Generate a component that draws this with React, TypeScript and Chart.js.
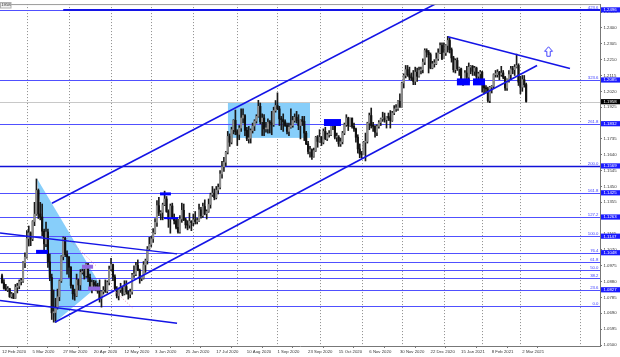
import React, { useEffect, useRef } from 'react';
import { Chart, registerables } from 'chart.js';
Chart.register(...registerables);

// Daily EUR/USD candles, 12 Feb 2020 .. 4 Mar 2021, prices in 1/10000 (pips)
const openPips = [
  10915,10873,10840,10830,10837,10790,10806,10780,10846,10853,10880,10882,10993,
  11026,11138,11172,11136,11240,11284,11426,11285,11267,11182,11106,11177,10998,10905,10693,10695,10724,10789,10884,11030,11140,11042,
  11028,10966,10857,10807,10794,10890,10860,10935,10940,10915,10986,10905,10845,10875,10860,10855,10823,10780,10820,10828,10822,10875,
  10955,10982,10908,10839,10795,10832,10840,10806,10850,10818,10804,10818,10920,10924,10977,10948,10900,10900,10980,11005,11075,
  11103,11136,11172,11235,11335,11290,11295,11340,11375,11300,11255,11333,11262,11245,11205,11177,11255,11307,11250,11220,11218,11242,
  11233,11250,11240,11245,11310,11275,11330,11287,11300,11342,11400,11410,11383,11428,11445,11525,11568,11595,11655,11750,11715,11790,11846,
  11778,11762,11800,11860,11875,11786,11735,11739,11785,11812,11842,11870,11930,11838,11860,11795,11795,11835,11830,11820,11905,
  11935,11915,11855,11850,11838,11815,11780,11805,11815,11845,11865,11845,11815,11850,11840,11770,11705,11660,11670,11630,11665,11745,
  11720,11745,11715,11780,11735,11760,11760,11825,11815,11745,11745,11705,11718,11770,11820,11860,11815,11860,11810,11795,11745,11675,
  11645,11640,11715,11720,11830,11875,11815,11810,11775,11810,11833,11855,11860,11850,11870,11860,11845,11890,11915,11915,11960,
  11925,12070,12115,12150,12120,12105,12100,12080,12135,12110,12145,12150,12195,12265,12255,12240,12160,12185,12185,12215,12250,12295,
  12215,12250,12295,12325,12270,12220,12150,12205,12155,12155,12080,12075,12130,12105,12165,12170,12140,12160,12110,12125,
  12135,12060,12040,12035,11965,12045,12050,12120,12120,12135,12120,12130,12105,12040,12090,12120,12155,12150,12165,12175,
  12075,12045,12090,12060,
];
const highPips = [
  10925,10892,10863,10850,10840,10815,10810,10863,10870,10890,10900,11000,11053,
  11185,11213,11178,11245,11355,11495,11435,11355,11345,11195,11237,11195,11045,10925,10830,10780,10835,10890,11035,11147,11145,11065,
  11030,10970,10860,10835,10925,10895,10952,10955,10955,10990,10990,10925,10890,10888,10885,10870,10890,10825,10850,10890,10885,10973,
  11019,10985,10920,10850,10840,10870,10850,10885,10885,10825,10835,10930,10975,10995,11010,10955,10910,11000,11015,11090,11145,
  11150,11197,11257,11365,11385,11305,11350,11422,11390,11310,11345,11350,11285,11255,11255,11275,11350,11345,11260,11245,11290,11245,
  11285,11300,11260,11345,11325,11350,11370,11310,11375,11410,11450,11435,11450,11465,11545,11600,11625,11660,11780,11765,11805,11850,11908,
  11790,11815,11915,11915,11880,11805,11810,11795,11830,11850,11880,11966,11950,11885,11880,11835,11855,11845,11900,11925,11965,
  12011,11930,11870,11885,11850,11830,11830,11915,11870,11885,11900,11880,11850,11870,11870,11780,11720,11690,11675,11680,11750,11755,
  11790,11750,11795,11805,11770,11785,11830,11835,11820,11770,11755,11740,11780,11830,11880,11865,11860,11860,11830,11800,11760,11705,
  11660,11720,11770,11835,11890,11920,11835,11815,11820,11845,11860,11895,11890,11870,11890,11905,11900,11935,11940,11965,12005,
  12075,12125,12175,12175,12165,12130,12145,12165,12160,12165,12165,12215,12275,12275,12265,12250,12200,12210,12250,12275,12310,12310,
  12310,12300,12349,12340,12280,12230,12215,12220,12165,12160,12090,12145,12170,12190,12175,12175,12170,12165,12135,12145,
  12140,12075,12055,12045,12050,12055,12125,12145,12150,12140,12170,12145,12110,12095,12145,12170,12170,12180,12243,12185,
  12110,12115,12115,12070,
];
const lowPips = [
  10871,10834,10827,10820,10785,10781,10778,10779,10812,10837,10860,10875,10963,
  11020,11093,11095,11125,11215,11277,11258,11250,11155,11055,11090,10965,10885,10653,10637,10636,10715,10765,10875,11010,11030,10925,
  10905,10840,10774,10768,10790,10830,10830,10925,10895,10905,10880,10840,10812,10845,10825,10810,10757,10727,10805,10815,10812,10860,
  10945,10885,10825,10782,10770,10815,10795,10800,10805,10775,10783,10805,10905,10915,10945,10870,10885,10895,10935,10985,11065,
  11090,11115,11165,11210,11275,11250,11250,11335,11295,11205,11170,11255,11225,11195,11170,11170,11235,11245,11200,11190,11200,11185,
  11215,11225,11225,11240,11260,11265,11280,11255,11295,11320,11390,11370,11375,11405,11435,11500,11540,11575,11645,11690,11705,11765,11760,
  11695,11730,11780,11830,11755,11725,11710,11710,11770,11785,11830,11865,11825,11755,11755,11775,11770,11770,11760,11810,11895,
  11910,11815,11790,11780,11810,11765,11755,11800,11805,11835,11830,11790,11735,11815,11725,11700,11645,11625,11612,11625,11660,11685,
  11715,11695,11705,11730,11725,11745,11755,11790,11735,11720,11690,11690,11705,11760,11810,11785,11810,11800,11780,11715,11650,11622,
  11620,11640,11603,11710,11790,11800,11780,11745,11755,11800,11815,11840,11835,11800,11845,11800,11840,11880,11900,11905,11925,
  11925,12040,12100,12110,12090,12085,12060,12060,12080,12105,12125,12130,12180,12225,12130,12155,12155,12165,12180,12205,12245,12210,
  12215,12235,12255,12250,12195,12135,12130,12145,12115,12075,12055,12070,12085,12075,12125,12115,12115,12060,12060,12085,
  12015,12005,12010,11955,11952,12010,12040,12105,12105,12090,12110,12095,12025,12025,12075,12090,12125,12115,12160,12055,
  12005,12020,12045,11955,
];
const closePips = [
  10873,10840,10830,10837,10790,10806,10780,10846,10853,10880,10882,10993,11026,
  11138,11172,11136,11240,11284,11426,11285,11267,11182,11106,11177,10998,10905,10693,10695,10724,10789,10884,11030,11140,11042,11028,
  10966,10857,10807,10794,10890,10860,10935,10940,10915,10986,10905,10845,10875,10860,10855,10823,10780,10820,10828,10822,10875,10955,
  10982,10908,10839,10795,10832,10840,10806,10850,10818,10804,10818,10920,10924,10977,10948,10900,10900,10980,11005,11075,11103,
  11136,11172,11235,11335,11290,11295,11340,11375,11300,11255,11333,11262,11245,11205,11177,11255,11307,11250,11220,11218,11242,11233,
  11250,11240,11245,11310,11275,11330,11287,11300,11342,11400,11410,11383,11428,11445,11525,11568,11595,11655,11750,11715,11790,11846,11778,
  11762,11800,11860,11875,11786,11735,11739,11785,11812,11842,11870,11930,11838,11860,11795,11795,11835,11830,11820,11905,11935,
  11915,11855,11850,11838,11815,11780,11805,11815,11845,11865,11845,11815,11850,11840,11770,11705,11660,11670,11630,11665,11745,11720,
  11745,11715,11780,11735,11760,11760,11825,11815,11745,11745,11705,11718,11770,11820,11860,11815,11860,11810,11795,11745,11675,11645,
  11640,11715,11720,11830,11875,11815,11810,11775,11810,11833,11855,11860,11850,11870,11860,11845,11890,11915,11915,11960,11925,
  12070,12115,12150,12120,12105,12100,12080,12135,12110,12145,12150,12195,12265,12255,12240,12160,12185,12185,12215,12250,12295,12215,
  12250,12295,12325,12270,12220,12150,12205,12155,12155,12080,12075,12130,12105,12165,12170,12140,12160,12110,12125,12135,
  12060,12040,12035,11965,12045,12050,12120,12120,12135,12120,12130,12105,12040,12090,12120,12155,12150,12165,12175,12075,
  12045,12090,12060,11960,
];

const xTickIdx = [0,16,32,48,64,80,96,112,128,144,160,176,192,208,224,240,256,272];
const xTickLabels = ['12 Feb 2020','5 Mar 2020','27 Mar 2020','20 Apr 2020','12 May 2020','3 Jun 2020','25 Jun 2020','17 Jul 2020','10 Aug 2020','1 Sep 2020','23 Sep 2020','15 Oct 2020','6 Nov 2020','30 Nov 2020','22 Dec 2020','15 Jan 2021','8 Feb 2021','2 Mar 2021'];
const monthGridIdx = [13,35,57,78,100,123,144,166,188,209,231,251,271,302];

const yTickValues = [1.05,1.0595,1.069,1.0785,1.088,1.0975,1.107,1.1165,1.126,1.1355,1.145,1.1545,1.164,1.1735,1.183,1.1925,1.202,1.2115,1.221,1.2305,1.24,1.2495];

const fibNames  = ['0.0','23.6','38.2','50.0','61.8','76.4','100.0','127.2','161.8','200.0','261.8','323.6','423.6'];
const fibPrices = [1.0731,1.0831,1.0902,1.0950,1.0995,1.1053,1.1152,1.1267,1.1412,1.1573,1.1826,1.2088,1.2508];
const fibBoxText = ['','1.0827','','','','1.1048','1.1147','1.1263','1.1425','1.1569','1.1832','1.2085','1.2496'];
const currentPrice = 1.1958;

// drawing objects in (bar index, price)
const upperChannel = [[26.1, 1.13492],[227.4, 1.25487]];
const lowerChannel = [[27.7, 1.06366],[279.7, 1.21746]];
const topResistance = [[233.1, 1.23468],[296.9, 1.21568]];
const leftLineA = [[-1.05, 1.1171],[91.5, 1.10463]];
const leftLineB = [[-1.05, 1.07672],[91.5, 1.06306]];
const pinkDots = [[[34, 1.11413],[49.7, 1.09691]],[[57.5, 1.08385],[68.5, 1.07197]]];
const triangle = [[18.3, 1.14976],[27.7, 1.06366],[51.2, 1.08622]];
const lightRect = [118.1, 1.19549, 161.0, 1.17411];
const blueBoxes = [
  [17.8, 1.10701, 24.0, 1.10463],
  [82.6, 1.14145, 88.3, 1.13967],
  [84.7, 1.12660, 92.0, 1.12542],
  [168.3, 1.18539, 177.2, 1.18124],
  [237.8, 1.20974, 244.6, 1.20558],
  [246.2, 1.20974, 252.5, 1.20558],
];
const purpleBoxes = [
  [41.8, 1.09810, 47.6, 1.09572],
  [45.0, 1.08504, 51.2, 1.08266],
];
const arrowAt = [285.7, 1.2287];

const FONT = 'Liberation Sans';
const FS = 4.3;

export default function App() {
  const ref = useRef<HTMLCanvasElement | null>(null);
  useEffect(() => {
    const canvas = ref.current;
    if (!canvas) return;
    const n = closePips.length;
    const wicks = [];
    const bodies = [];
    const bodyColors = [];
    for (let i = 0; i < n; i++) {
      wicks.push({ x: i, y: [lowPips[i] / 10000, highPips[i] / 10000] });
      bodies.push({ x: i, y: [openPips[i] / 10000, closePips[i] / 10000] });
      bodyColors.push(closePips[i] >= openPips[i] ? '#8c8c8c' : '#111111');
    }

    const overlay = {
      id: 'overlay',
      beforeDatasetsDraw(chart: any) {
        const { ctx, chartArea: a, scales } = chart;
        const X = (v: number) => scales.x.getPixelForValue(v);
        const Y = (v: number) => scales.y.getPixelForValue(v);
        ctx.save();
        ctx.beginPath();
        ctx.rect(a.left, a.top, a.right - a.left, a.bottom - a.top);
        ctx.clip();
        // monthly dotted grid
        ctx.strokeStyle = '#8c8c8c';
        ctx.lineWidth = 1;
        ctx.setLineDash([1, 2]);
        monthGridIdx.forEach((i) => {
          const px = Math.round(X(i)) + 0.5;
          ctx.beginPath();
          ctx.moveTo(px, a.top);
          ctx.lineTo(px, a.bottom);
          ctx.stroke();
        });
        ctx.setLineDash([]);
        // light blue shapes
        ctx.fillStyle = '#87cefa';
        ctx.beginPath();
        triangle.forEach((p, k) => (k ? ctx.lineTo(X(p[0]), Y(p[1])) : ctx.moveTo(X(p[0]), Y(p[1]))));
        ctx.closePath();
        ctx.fill();
        ctx.fillRect(X(lightRect[0]), Y(lightRect[1]), X(lightRect[2]) - X(lightRect[0]), Y(lightRect[3]) - Y(lightRect[1]));
        // current price line
        ctx.strokeStyle = '#c8c8c8';
        ctx.beginPath();
        const cy = Math.round(Y(currentPrice)) + 0.5;
        ctx.moveTo(a.left, cy);
        ctx.lineTo(a.right, cy);
        ctx.stroke();
        // fib levels
        fibPrices.forEach((p, k) => {
          const yy = Math.round(Y(p)) + 0.5;
          ctx.strokeStyle = fibNames[k] === '200.0' ? '#1010d8' : '#5050ff';
          ctx.lineWidth = fibNames[k] === '200.0' ? 1.6 : 1;
          ctx.beginPath();
          ctx.moveTo(a.left, yy);
          ctx.lineTo(a.right, yy);
          ctx.stroke();
        });
        ctx.restore();
      },
      afterDatasetsDraw(chart: any) {
        const { ctx, chartArea: a, scales } = chart;
        const X = (v: number) => scales.x.getPixelForValue(v);
        const Y = (v: number) => scales.y.getPixelForValue(v);
        ctx.save();
        ctx.beginPath();
        ctx.rect(a.left, a.top, a.right - a.left, a.bottom - a.top);
        ctx.clip();
        const seg = (s: number[][], color: string, w: number) => {
          ctx.strokeStyle = color;
          ctx.lineWidth = w;
          ctx.beginPath();
          ctx.moveTo(X(s[0][0]), Y(s[0][1]));
          ctx.lineTo(X(s[1][0]), Y(s[1][1]));
          ctx.stroke();
        };
        seg([[32, fibPrices[12]], [313, fibPrices[12]]], '#1414e6', 2);
        seg(upperChannel, '#1414e6', 1.6);
        seg(lowerChannel, '#1414e6', 1.6);
        seg(topResistance, '#1414e6', 1.6);
        seg(leftLineA, '#1414e6', 1.4);
        seg(leftLineB, '#1414e6', 1.4);
        ctx.setLineDash([1, 2]);
        pinkDots.forEach((s) => seg(s, 'rgba(230,110,150,0.8)', 1));
        ctx.setLineDash([]);
        ctx.fillStyle = '#0000ff';
        blueBoxes.forEach((b) => ctx.fillRect(X(b[0]), Y(b[1]), X(b[2]) - X(b[0]), Y(b[3]) - Y(b[1])));
        ctx.fillStyle = '#9168e0';
        purpleBoxes.forEach((b) => ctx.fillRect(X(b[0]), Y(b[1]), X(b[2]) - X(b[0]), Y(b[3]) - Y(b[1])));
        // hollow up arrow
        const ax = X(arrowAt[0]);
        const ay = Y(arrowAt[1]);
        ctx.strokeStyle = '#4646ff';
        ctx.lineWidth = 1;
        ctx.beginPath();
        ctx.moveTo(ax, ay);
        ctx.lineTo(ax + 4, ay + 4.5);
        ctx.lineTo(ax + 1.7, ay + 4.5);
        ctx.lineTo(ax + 1.7, ay + 9.5);
        ctx.lineTo(ax - 1.7, ay + 9.5);
        ctx.lineTo(ax - 1.7, ay + 4.5);
        ctx.lineTo(ax - 4, ay + 4.5);
        ctx.closePath();
        ctx.stroke();
        ctx.restore();
      },
      afterDraw(chart: any) {
        const { ctx, chartArea: a, scales } = chart;
        const Y = (v: number) => scales.y.getPixelForValue(v);
        ctx.save();
        // frame
        ctx.strokeStyle = '#9a9a9a';
        ctx.lineWidth = 1;
        ctx.beginPath();
        ctx.moveTo(a.left, a.top + 0.5);
        ctx.lineTo(a.right, a.top + 0.5);
        ctx.stroke();
        ctx.font = `${FS}px "${FONT}"`;
        // fib level names
        ctx.fillStyle = '#3c3cff';
        ctx.textAlign = 'right';
        ctx.textBaseline = 'bottom';
        fibPrices.forEach((p, k) => ctx.fillText(fibNames[k], a.right - 1.5, Math.round(Y(p)) - 0.3));
        // axis price boxes
        ctx.textAlign = 'left';
        ctx.textBaseline = 'middle';
        fibPrices.forEach((p, k) => {
          if (!fibBoxText[k]) return;
          const yy = Y(p);
          ctx.fillStyle = '#1a1aff';
          ctx.fillRect(a.right + 1, yy - 2.6, 19, 5.2);
          ctx.fillStyle = '#ffffff';
          ctx.fillText(fibBoxText[k], a.right + 3.5, yy + 0.2);
        });
        const cy = Y(currentPrice);
        ctx.fillStyle = '#000000';
        ctx.fillRect(a.right + 1, cy - 2.6, 19, 5.2);
        ctx.fillStyle = '#ffffff';
        ctx.fillText(currentPrice.toFixed(4), a.right + 3.5, cy + 0.2);
        // top-left tag
        ctx.fillStyle = '#f2f2f2';
        ctx.fillRect(0, 2, 11, 6);
        ctx.strokeStyle = '#b0b0b0';
        ctx.strokeRect(0.5, 2.5, 10.5, 5.5);
        ctx.fillStyle = '#222';
        ctx.fillText('1958', 1.2, 5.3);
        ctx.restore();
      },
    };

    const chart = new Chart(canvas, {
      type: 'bar',
      data: {
        datasets: [
          {
            data: wicks as any,
            backgroundColor: '#1a1a1a',
            barThickness: 1,
            grouped: false,
            order: 2,
          } as any,
          {
            data: bodies as any,
            backgroundColor: bodyColors,
            barThickness: 1.5,
            grouped: false,
            minBarLength: 1,
            order: 1,
          } as any,
        ],
      },
      options: {
        animation: false,
        responsive: false,
        maintainAspectRatio: false,
        events: [],
        layout: { padding: { top: 1, left: 0, right: 0, bottom: 0 } },
        plugins: { legend: { display: false }, tooltip: { enabled: false } },
        scales: {
          x: {
            type: 'linear',
            position: 'bottom',
            min: -1.05,
            max: 312.6,
            offset: false,
            grid: { drawOnChartArea: false, drawTicks: true, tickLength: 2, color: '#777' },
            border: { display: true, color: '#777' },
            afterBuildTicks: (s: any) => {
              s.ticks = xTickIdx.map((v) => ({ value: v }));
            },
            afterFit: (s: any) => {
              s.height = 11;
            },
            ticks: {
              autoSkip: false,
              maxRotation: 0,
              minRotation: 0,
              align: 'start',
              padding: 1,
              color: '#333',
              font: { family: FONT, size: FS },
              callback: (v: any) => {
                const k = xTickIdx.indexOf(v);
                return k >= 0 ? xTickLabels[k] : '';
              },
            },
          },
          y: {
            type: 'linear',
            position: 'right',
            min: 1.04941,
            max: 1.25428,
            grid: { drawOnChartArea: false, drawTicks: true, tickLength: 2, color: '#777' },
            border: { display: true, color: '#777' },
            afterBuildTicks: (s: any) => {
              s.ticks = yTickValues.map((v) => ({ value: v }));
            },
            afterFit: (s: any) => {
              s.width = 20;
            },
            ticks: {
              autoSkip: false,
              padding: 1.5,
              color: '#333',
              font: { family: FONT, size: FS },
              callback: (v: any) => Number(v).toFixed(4),
            },
          },
        },
      } as any,
      plugins: [overlay],
    });
    return () => chart.destroy();
  }, []);

  return (
    <>
      <style>{'body{margin:0;background:#fff;overflow:hidden}'}</style>
      <canvas ref={ref} width={620} height={357} style={{ display: 'block', width: 620, height: 357 }} />
    </>
  );
}
